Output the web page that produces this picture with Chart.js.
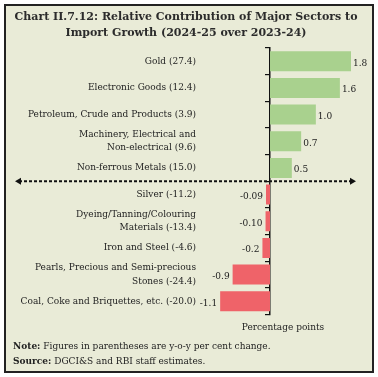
<!DOCTYPE html>
<html>
<head>
<meta charset="utf-8">
<script src="https://cdn.jsdelivr.net/npm/chart.js@4.4.1/dist/chart.umd.min.js"></script>
<style>
  html, body { margin: 0; padding: 0; background: #fff; }
  .frame {
    position: absolute; left: 4px; top: 4px;
    width: 366px; height: 365px;
    border: 2px solid #222; background: #e9ebd7;
  }
  canvas { position: absolute; left: 0; top: 0; }
  .notes {
    position: absolute; left: 7px; top: 333px;
    font: 9px "DejaVu Serif", serif; color: #222; line-height: 15px;
    white-space: nowrap;
  }
</style>
</head>
<body>
<div class="frame">
  <canvas id="chart" width="366" height="365"></canvas>
  <div class="notes">
    <div><b>Note:</b> Figures in parentheses are y-o-y per cent change.</div>
    <div><b>Source:</b> DGCI&amp;S and RBI staff estimates.</div>
  </div>
</div>
<script>
const titleLines = [
  'Chart II.7.12: Relative Contribution of Major Sectors to',
  'Import Growth (2024-25 over 2023-24)'
];
const categories = [
  'Gold (27.4)',
  'Electronic Goods (12.4)',
  'Petroleum, Crude and Products (3.9)',
  ['Machinery, Electrical and', 'Non-electrical (9.6)'],
  'Non-ferrous Metals (15.0)',
  'Silver (-11.2)',
  ['Dyeing/Tanning/Colouring', 'Materials (-13.4)'],
  'Iron and Steel (-4.6)',
  ['Pearls, Precious and Semi-precious', 'Stones (-24.4)'],
  'Coal, Coke and Briquettes, etc. (-20.0)'
];
// percentage points (bar lengths)
const contributions = [1.82, 1.57, 1.03, 0.70, 0.49, -0.09, -0.10, -0.17, -0.84, -1.12];
// printed value labels
const valueLabels = ['1.8', '1.6', '1.0', '0.7', '0.5', '-0.09', '-0.10', '-0.2', '-0.9', '-1.1'];
const xRange = [-1.573, 2.157];

const serif = 'DejaVu Serif';
const ink = '#222';

// value labels at bar ends
const barValues = {
  id: 'barValues',
  afterDatasetsDraw(chart) {
    const ctx = chart.ctx;
    const meta = chart.getDatasetMeta(0);
    ctx.save();
    ctx.font = '9px "' + serif + '"';
    ctx.fillStyle = ink;
    ctx.textBaseline = 'middle';
    meta.data.forEach((bar, i) => {
      const v = contributions[i];
      ctx.textAlign = v >= 0 ? 'left' : 'right';
      ctx.fillText(valueLabels[i], bar.x + (v >= 0 ? 2 : -3), bar.y + 2);
    });
    ctx.restore();
  }
};

// dashed double-arrow separating positive and negative contributions
const divider = {
  id: 'divider',
  afterDatasetsDraw(chart) {
    const ctx = chart.ctx;
    const y = chart.scales.y.getPixelForValue(4.5);
    const x1 = 9, x2 = 350;
    ctx.save();
    ctx.strokeStyle = '#111';
    ctx.fillStyle = '#111';
    ctx.lineWidth = 1.8;
    ctx.setLineDash([3, 2]);
    ctx.beginPath();
    ctx.moveTo(x1 + 4, y);
    ctx.lineTo(x2 - 4, y);
    ctx.stroke();
    ctx.setLineDash([]);
    ctx.beginPath();
    ctx.moveTo(x1, y);
    ctx.lineTo(x1 + 6, y - 3.5);
    ctx.lineTo(x1 + 6, y + 3.5);
    ctx.closePath();
    ctx.fill();
    ctx.beginPath();
    ctx.moveTo(x2, y);
    ctx.lineTo(x2 - 6, y - 3.5);
    ctx.lineTo(x2 - 6, y + 3.5);
    ctx.closePath();
    ctx.fill();
    ctx.restore();
  }
};

new Chart(document.getElementById('chart'), {
  type: 'bar',
  data: {
    labels: categories,
    datasets: [{
      data: contributions,
      backgroundColor: contributions.map(v => v >= 0 ? '#a9d18e' : '#ef6369'),
      barPercentage: 0.75,
      categoryPercentage: 1
    }]
  },
  options: {
    indexAxis: 'y',
    responsive: false,
    animation: false,
    layout: { padding: { left: 0, right: 6, top: 0, bottom: 37.6 } },
    plugins: {
      legend: { display: false },
      tooltip: { enabled: false },
      title: {
        display: true,
        text: titleLines,
        color: '#2b2b2b',
        font: { family: serif, size: 11, weight: 'bold', lineHeight: 1.45 },
        padding: { top: 3, bottom: 7 }
      }
    },
    scales: {
      x: {
        min: xRange[0],
        max: xRange[1],
        grid: { display: false, drawTicks: false },
        border: { display: false },
        ticks: { display: false },
        title: {
          display: true,
          text: 'Percentage points',
          color: ink,
          font: { family: serif, size: 9 },
          padding: { top: 8, bottom: 0 }
        }
      },
      y: {
        grid: { display: false, drawTicks: false },
        border: { display: false },
        ticks: {
          color: ink,
          padding: 4,
          autoSkip: false,
          font: { family: serif, size: 9, lineHeight: 1.48 }
        },
        afterFit: s => { s.width = 194; }
      },
      y2: {
        type: 'category',
        position: { x: 0 },
        offset: true,
        grid: { offset: true, drawOnChartArea: false, tickLength: 4, color: '#111', lineWidth: 1.2 },
        border: { display: true, color: '#111', width: 1.5 },
        ticks: { display: false },
        afterFit: s => { s.width = 0; }
      }
    }
  },
  plugins: [barValues, divider]
});
</script>
</body>
</html>
